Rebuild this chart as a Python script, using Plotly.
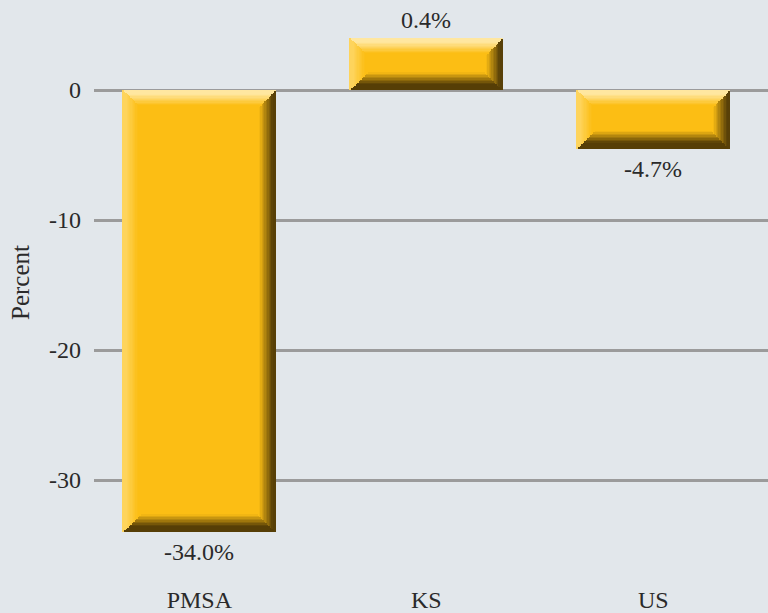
import plotly.graph_objects as go

# ---------------- data ----------------
categories = ["PMSA", "KS", "US"]
bar_values = [-34.0, 4.0, -4.5]          # bar extents as drawn in the chart
value_labels = ["-34.0%", "0.4%", "-4.7%"]
y_tick_values = [0, -10, -20, -30]
y_tick_labels = ["0", "-10", "-20", "-30"]
y_title = "Percent"

# ---------------- layout constants ----------------
W, H = 768, 613
ML, MR, MT, MB = 94, 0, 0, 30
X_RANGE = [-0.464, 2.505]
Y_RANGE = [-37.923, 6.923]
PX_X = (X_RANGE[1] - X_RANGE[0]) / (W - ML - MR)
PX_Y = (Y_RANGE[1] - Y_RANGE[0]) / (H - MT - MB)
BAR_W = 0.673
FONT = "Liberation Serif"
TXT = "#2a2a2a"
BG = "#E2E7EB"
GRID = "#9b9b9b"

GOLD = (252, 190, 20)
TOP_LIGHT = (255, 231, 160)
LEFT_LIGHT = (254, 212, 92)
DARK_R = (88, 64, 8)
DARK_B = (86, 62, 6)


def mix(c1, c2, t):
    t = max(0.0, min(1.0, t))
    return "rgb(%d,%d,%d)" % tuple(round(a + (b - a) * t) for a, b in zip(c1, c2))


xs = list(range(len(categories)))
tops = [max(0, v) for v in bar_values]
bots = [min(0, v) for v in bar_values]

fig = go.Figure()


def add_layer(x0, x1, b, t, color):
    fig.add_trace(go.Bar(
        x=xs, base=b, y=[max(0, tt - bb) for bb, tt in zip(b, t)],
        width=x1 - x0, offset=x0,
        marker=dict(color=color, line=dict(width=0)),
        hoverinfo="skip", showlegend=False,
    ))


L, R = -BAR_W / 2, BAR_W / 2
N = 12

# base gold body
add_layer(L, R, bots, tops, mix(GOLD, GOLD, 0))


def steps(size):
    s = [size * (N - j) / N for j in range(N)] + [0]
    return [(s[j], (s[j] + s[j + 1]) / 2) for j in range(N)]


# left light bevel
for s, d in steps(15):
    add_layer(L, L + s * PX_X, bots, tops, mix(LEFT_LIGHT, GOLD, (d - 3) / 12))
# top light bevel
for s, d in steps(15):
    add_layer(L + s * PX_X, R, [t - s * PX_Y for t in tops], tops,
              mix(TOP_LIGHT, GOLD, (d - 4) / 11))
# right dark bevel
for s, d in steps(17):
    add_layer(R - s * PX_X, R, bots, [t - s * PX_Y for t in tops],
              mix(DARK_R, GOLD, (d - 3) / 14))
# bottom dark bevel
for s, d in steps(18):
    add_layer(L + s * PX_X, R - s * PX_X, bots, [b + s * PX_Y for b in bots],
              mix(DARK_B, GOLD, (d - 6) / 12))

# value labels
for x, v, lab in zip(xs, bar_values, value_labels):
    fig.add_annotation(
        x=x, y=v, text=lab, showarrow=False,
        yanchor="bottom" if v > 0 else "top",
        yshift=3 if v > 0 else -5,
        font=dict(family=FONT, size=24, color=TXT),
    )

# y-axis title
fig.add_annotation(
    xref="paper", yref="paper", x=(20 - ML) / (W - ML - MR), y=1 - (283 - MT) / (H - MT - MB),
    text=y_title, textangle=-90, showarrow=False, xanchor="center", yanchor="middle",
    font=dict(family=FONT, size=25, color=TXT),
)

fig.update_layout(
    width=W, height=H,
    margin=dict(l=ML, r=MR, t=MT, b=MB, pad=0, autoexpand=False),
    paper_bgcolor=BG, plot_bgcolor=BG,
    barmode="overlay", bargap=0,
    showlegend=False,
    font=dict(family=FONT, size=24, color=TXT),
    xaxis=dict(
        range=X_RANGE, tickmode="array", tickvals=xs, ticktext=categories,
        showgrid=False, zeroline=False, showline=False, ticks="", automargin=False,
        tickfont=dict(family=FONT, size=24, color=TXT),
    ),
    yaxis=dict(
        range=Y_RANGE, tickmode="array", tickvals=y_tick_values, ticktext=y_tick_labels,
        showgrid=True, gridcolor=GRID, gridwidth=2.5,
        zeroline=True, zerolinecolor=GRID, zerolinewidth=2.5, automargin=False,
        showline=False, ticks="", ticklabelstandoff=12,
        tickfont=dict(family=FONT, size=24, color=TXT),
    ),
)

fig.write_html("out.html", config={"displayModeBar": False},
               post_script="document.body.style.margin='0';")
